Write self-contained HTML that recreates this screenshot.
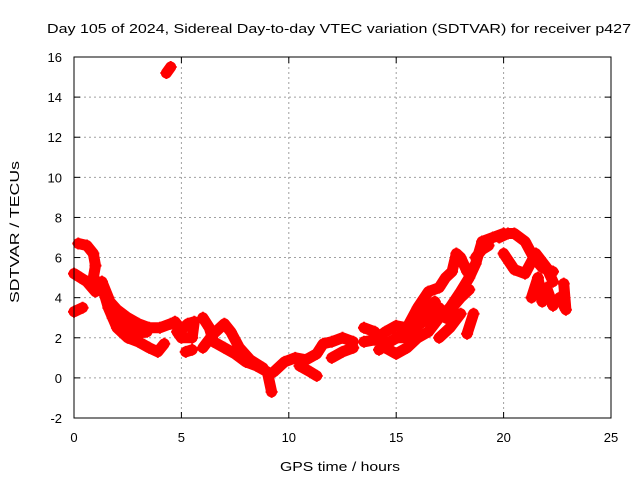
<!DOCTYPE html>
<html><head><meta charset="utf-8"><style>
body{margin:0;background:#fff}
svg text{font-family:"Liberation Sans",sans-serif;font-size:13px;fill:#000}
</style></head><body>
<svg id="c" width="640" height="480" xmlns="http://www.w3.org/2000/svg">
<text x="339" y="33" text-anchor="middle" font-size="15" textLength="584" lengthAdjust="spacingAndGlyphs">Day 105 of 2024, Sidereal Day-to-day VTEC variation (SDTVAR) for receiver p427</text>
<text x="340" y="471" text-anchor="middle" font-size="15" textLength="120" lengthAdjust="spacingAndGlyphs">GPS time / hours</text>
<text transform="translate(19,232) rotate(-90)" text-anchor="middle" font-size="15" textLength="142" lengthAdjust="spacingAndGlyphs">SDTVAR / TECUs</text>
<g id="grid"></g><g id="marks"></g><g id="axes"></g>
</svg>
<script>
const xTicks=[0,5,10,15,20,25];
const yTicks=[-2,0,2,4,6,8,10,12,14,16];
const tracks=[
[[0,5.2],[0.3,5.0],[0.6,4.8],[1.0,4.3],[1.3,4.6],[1.6,3.5],[2.0,2.5],[2.5,2.0],[3.0,1.8],[3.5,1.5],[3.9,1.3],[4.2,1.7]],
[[0.2,6.7],[0.6,6.6],[0.9,6.2],[1.0,5.6],[0.9,5.0],[1.2,4.6],[1.5,4.0],[2.0,3.4],[2.5,3.0],[3.0,2.7],[3.5,2.5],[4.0,2.5],[4.5,2.7]],
[[1.3,4.8],[1.6,4.0],[1.8,3.0],[2.2,2.7],[2.8,2.2],[3.4,2.3]],
[[0,3.3],[0.4,3.5]],
[[4.3,15.2],[4.5,15.5]],
[[4.7,2.8],[5.0,2.4],[5.3,2.7],[5.6,2.8],[5.5,2.0],[5.0,2.0],[4.8,2.3]],
[[5.2,1.3],[5.5,1.4]],
[[6.0,3.0],[6.3,2.5],[6.5,1.8],[7.0,1.5],[7.5,1.2],[8.0,0.8],[8.5,0.6],[9.0,0.3],[9.2,-0.7]],
[[6.0,1.5],[6.5,2.2],[7.0,2.7],[7.3,2.3],[7.7,1.5],[8.2,0.9],[8.8,0.5]],
[[9.3,0.3],[9.8,0.8],[10.3,1.0],[10.8,0.9],[11.3,1.2],[11.6,1.7],[12.0,1.8],[12.5,2.0],[13.0,1.8]],
[[10.5,0.6],[11.0,0.3],[11.3,0.1]],
[[12.0,1.0],[12.5,1.3],[13.0,1.5]],
[[13.5,2.5],[14.0,2.3],[14.5,1.5],[15.0,1.2],[15.5,1.5],[16.0,2.0],[16.5,2.3],[17.0,3.0],[17.5,3.5],[18.0,4.3],[18.4,5.0],[18.7,5.7],[19.0,6.8],[19.5,7.0],[20.0,7.2]],
[[13.5,1.8],[14.0,1.9],[14.5,2.3],[15.0,2.6],[15.5,2.5],[16.0,3.5],[16.5,4.3],[17.0,4.5],[17.3,5.0],[17.6,5.3],[17.8,6.2],[18.0,6.0],[18.3,5.3]],
[[14.2,1.4],[14.7,1.8],[15.2,2.1],[15.7,2.4],[16.3,3.2],[16.8,3.8]],
[[15.0,2.0],[15.5,2.0],[16.0,2.6],[16.5,3.0],[17.0,3.5],[17.3,3.0],[17.6,3.5],[18.0,4.0],[18.4,4.4]],
[[18.3,2.2],[18.6,3.2]],
[[17.0,2.0],[17.5,2.5],[18.0,3.2]],
[[18.7,6.0],[19.0,6.4],[19.3,6.6]],
[[19.8,7.0],[20.2,7.2],[20.5,7.2],[21.0,6.8],[21.4,6.0],[21.8,5.5],[22.3,5.3]],
[[20.0,6.2],[20.5,5.4],[21.0,5.2],[21.5,6.2],[22.0,5.5],[22.3,4.8]],
[[21.3,4.0],[21.6,5.0],[21.8,3.8]],
[[22.0,4.5],[22.3,3.6]],
[[22.6,4.0],[22.9,3.4],[22.8,4.7]]
];
const L=74,R=611,T=57,B=418;
const xs=t=>L+(t-0)/25*(R-L);
const ys=v=>B-(v+2)/18*(B-T);
const NS="http://www.w3.org/2000/svg";
function mk(tag,attrs,parent){const e=document.createElementNS(NS,tag);for(const k in attrs)e.setAttribute(k,attrs[k]);parent.appendChild(e);return e;}
const grid=document.getElementById('grid'),axes=document.getElementById('axes'),marks=document.getElementById('marks');
xTicks.forEach(t=>{const x=xs(t);
 if(t>0&&t<25){const g=mk('line',{x1:x,x2:x,y1:T,y2:B,stroke:'#a0a0a0','stroke-dasharray':'2,3'},grid);}
 mk('line',{x1:x,x2:x,y1:B,y2:B-6,stroke:'#000'},axes);mk('line',{x1:x,x2:x,y1:T,y2:T+6,stroke:'#000'},axes);
 const tx=mk('text',{x:x,y:B+24,'text-anchor':'middle'},axes);tx.textContent=t;
 });
yTicks.forEach(v=>{const y=ys(v);
 if(v>-2&&v<16){const g=mk('line',{x1:L,x2:R,y1:y,y2:y,stroke:'#a0a0a0','stroke-dasharray':'2,3'},grid);}
 mk('line',{x1:L,x2:L+6,y1:y,y2:y,stroke:'#000'},axes);mk('line',{x1:R,x2:R-6,y1:y,y2:y,stroke:'#000'},axes);
 const tx=mk('text',{x:L-12,y:y+5,'text-anchor':'end'},axes);tx.textContent=v;
 });
const fr=mk('rect',{x:L,y:T,width:R-L,height:B-T,fill:'none',stroke:'#000'},axes);

tracks.forEach(tr=>{
 const p=mk('polyline',{points:tr.map(d=>xs(d[0])+','+ys(d[1])).join(' '),fill:'none',stroke:'#f00','stroke-width':11,'stroke-linejoin':'round','stroke-linecap':'round'},marks);
 
 
 tr.forEach(d=>{const x=xs(d[0]),y=ys(d[1]);
  const m=mk('path',{d:`M${x-6},${y}h12M${x},${y-6}v12`,stroke:'#f00','stroke-width':2},marks);
  
  });
});
</script>
</body></html>
